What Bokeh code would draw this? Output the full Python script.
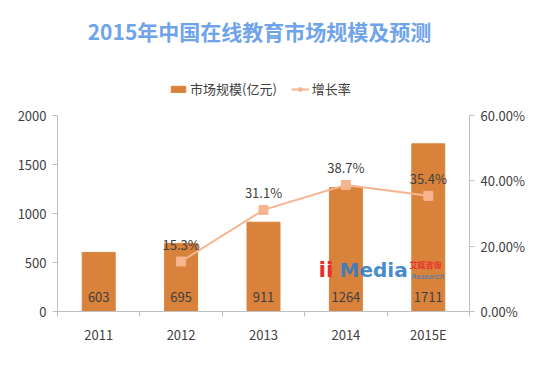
from bokeh.plotting import figure
from bokeh.models import (Range1d, LinearAxis, FixedTicker, NumeralTickFormatter,
                          ColumnDataSource, Legend, LegendItem, Label, CustomJSTickFormatter)
from bokeh.core.properties import value
from bokeh.embed import file_html
from bokeh.resources import INLINE
import numpy as np

categories = ["2011", "2012", "2013", "2014", "2015E"]
market_size = [603, 695, 911, 1264, 1711]
growth_years = ["2012", "2013", "2014", "2015E"]
growth_rate = [0.153, 0.311, 0.387, 0.354]
growth_labels = ["15.3%", "31.1%", "38.7%", "35.4%"]
left_ticks = [0, 500, 1000, 1500, 2000]
right_ticks = [0.0, 0.2, 0.4, 0.6]
title_text = "2015年中国在线教育市场规模及预测"
legend_bar = "市场规模(亿元)"
legend_line = "增长率"

FONT = "Noto Sans CJK SC"
BAR = "#d9823b"
LINE = "#f6b58e"
TXT = "#404040"
AX = "#bfbfbf"

# layout (pixels): frame spans canvas top .. axis baseline; axes drawn only over value span
W, H = 547, 375
FRAME_BOTTOM = 311          # canvas y of value 0
AXIS_TOP = 115              # canvas y of top tick
scale = FRAME_BOTTOM / (FRAME_BOTTOM - AXIS_TOP)

idx = {c: i + 0.5 for i, c in enumerate(categories)}
bar_src = ColumnDataSource(dict(x=[idx[c] for c in categories], y=market_size,
                                lab=[str(v) for v in market_size]))
line_src = ColumnDataSource(dict(x=[idx[c] for c in growth_years], y=growth_rate,
                                 lab=growth_labels))

p = figure(width=W, height=H, output_backend="svg", toolbar_location=None,
           x_range=Range1d(0, len(categories)),
           y_range=Range1d(0, left_ticks[-1] * scale),
           min_border_left=57, min_border_right=78, min_border_top=0,
           min_border_bottom=H - FRAME_BOTTOM)
p.outline_line_color = None
p.xgrid.visible = False
p.ygrid.visible = False

p.extra_y_ranges = {"pct": Range1d(0, right_ticks[-1] * scale)}

bars = p.vbar(x="x", top="y", width=0.4, source=bar_src, fill_color=BAR,
              line_color=BAR)
p.text(x="x", y=0, text="lab", source=bar_src, text_align="center",
       text_baseline="bottom", y_offset=-10, text_font=value(FONT),
       text_font_size="13px", text_color=TXT)

ln = p.line(x="x", y="y", source=line_src, y_range_name="pct", line_color=LINE,
            line_width=2)
sc = p.scatter(x="x", y="y", source=line_src, y_range_name="pct", marker="square",
               size=9, fill_color=LINE, line_color=LINE)
p.text(x="x", y="y", text="lab", source=line_src, y_range_name="pct",
       text_align="center", text_baseline="bottom", y_offset=-8,
       text_font=value(FONT), text_font_size="13px", text_color=TXT)

xa = p.xaxis[0]
xa.ticker = FixedTicker(ticks=[idx[c] for c in categories],
                        minor_ticks=list(np.arange(0, len(categories) + 1)))
xa.formatter = CustomJSTickFormatter(args=dict(cats=categories),
                                     code="return cats[Math.floor(tick)];")
xa.major_tick_out = 0
xa.major_tick_in = 0
xa.minor_tick_out = 5
xa.minor_tick_in = 0
xa.minor_tick_line_color = AX
xa.axis_line_color = AX
xa.major_label_standoff = 8
xa.major_label_text_font = FONT
xa.major_label_text_font_size = "13px"
xa.major_label_text_color = TXT

ya = p.yaxis[0]
ya.ticker = FixedTicker(ticks=left_ticks)
ya.bounds = (left_ticks[0], left_ticks[-1])
ya.axis_line_color = AX
ya.major_tick_line_color = AX
ya.major_tick_out = 5
ya.major_tick_in = 0
ya.minor_tick_line_color = None
ya.major_label_standoff = 6
ya.major_label_text_font = FONT
ya.major_label_text_font_size = "13px"
ya.major_label_text_color = TXT

ra = LinearAxis(y_range_name="pct", ticker=FixedTicker(ticks=right_ticks),
                formatter=NumeralTickFormatter(format="0.00%"),
                bounds=(right_ticks[0], right_ticks[-1]))
ra.axis_line_color = AX
ra.major_tick_line_color = AX
ra.major_tick_out = 5
ra.major_tick_in = 0
ra.minor_tick_line_color = None
ra.major_label_standoff = 6
ra.major_label_text_font = FONT
ra.major_label_text_font_size = "13px"
ra.major_label_text_color = TXT
p.add_layout(ra, "right")

# title (frame-relative screen units)
p.add_layout(Label(x=202, y=FRAME_BOTTOM - 30, x_units="screen", y_units="screen",
                   text=title_text, text_align="center", text_baseline="middle",
                   text_font=FONT, text_font_size="21px", text_font_style="bold",
                   text_color="#6fa3ea"))

# watermark
p.add_layout(Label(x=261, y=30, x_units="screen", y_units="screen", text="ii",
                   text_font="DejaVu Sans", text_font_size="22px",
                   text_font_style="bold", text_color="#e8312f"))
p.add_layout(Label(x=282, y=30, x_units="screen", y_units="screen", text="Media",
                   text_font="DejaVu Sans", text_font_size="20px",
                   text_font_style="bold", text_color="#2e7cc4", text_alpha=0.9))
p.add_layout(Label(x=352, y=42, x_units="screen", y_units="screen", text="艾媒咨询",
                   text_font=FONT, text_font_size="8px", text_font_style="bold",
                   text_color="#e8312f"))
p.add_layout(Label(x=354, y=31, x_units="screen", y_units="screen", text="Research",
                   text_font="DejaVu Sans", text_font_size="7px",
                   text_font_style="italic", text_color="#2e7cc4"))

legend = Legend(items=[LegendItem(label=legend_bar, renderers=[bars]),
                       LegendItem(label=legend_line, renderers=[ln, sc])],
                orientation="horizontal", location=(112, FRAME_BOTTOM - 98),
                label_text_font=FONT, label_text_font_size="13px",
                label_text_color=TXT, border_line_color=None,
                background_fill_alpha=0, glyph_width=18, glyph_height=8,
                spacing=14, padding=2, label_standoff=3, margin=0)
p.add_layout(legend, "center")

open("out.html", "w").write(file_html(p, INLINE))
